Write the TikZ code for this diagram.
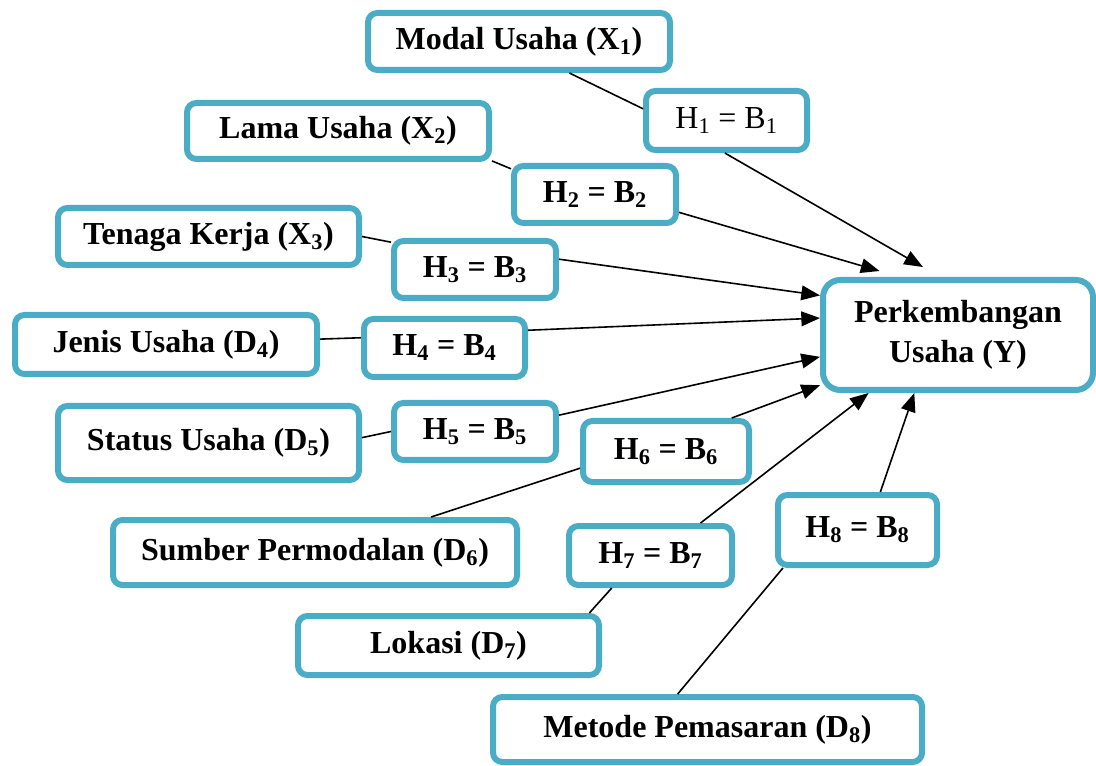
\documentclass[tikz,border=0pt]{standalone}
\usepackage{fontspec}
\setmainfont{Liberation Serif}
\usetikzlibrary{arrows.meta}
\definecolor{boxline}{HTML}{4BACC6}
\tikzset{
  varbox/.style 2 args={draw=boxline, line width=4.5pt, rounded corners=7pt, fill=white,
    minimum width=#1, minimum height=#2, inner sep=0pt, align=center,
    font=\fontsize{24}{30}\selectfont\bfseries},
  link/.style={line width=1.2pt},
  arr/.style={link, -{Triangle[length=14pt, width=11pt]}}
}

\begin{document}
\begin{tikzpicture}[x=0.75pt, y=-0.75pt]
  \useasboundingbox (0,0) rectangle (1096,766);

  % ---- Dependent variable --------------------------------------------------
  \node[varbox={202.5pt}{82.5pt}, rounded corners=13pt] (y) at (958,335)
    {Perkembangan\\Usaha (Y)};

  % ---- Independent variables -----------------------------------------------
  \node[varbox={226.5pt}{42.75pt}]  (x1) at (519,41.5)   {Modal Usaha (X\textsubscript{1})};
  \node[varbox={226.5pt}{42pt}]     (x2) at (338,131)    {Lama Usaha (X\textsubscript{2})};
  \node[varbox={225.75pt}{42.75pt}] (x3) at (208.5,236.5) {Tenaga Kerja (X\textsubscript{3})};
  \node[varbox={226.5pt}{44.25pt}]  (d4) at (166,344.5)  {Jenis Usaha (D\textsubscript{4})};
  \node[varbox={225.75pt}{55.5pt}]  (d5) at (208.5,443)  {Status Usaha (D\textsubscript{5})};
  \node[varbox={303pt}{48.75pt}]    (d6) at (315,552.5)  {Sumber Permodalan (D\textsubscript{6})};
  \node[varbox={225.75pt}{44.25pt}] (d7) at (448.5,645.5) {Lokasi (D\textsubscript{7})};
  \node[varbox={321.75pt}{48.75pt}] (d8) at (707.5,729.5) {Metode Pemasaran (D\textsubscript{8})};

  % ---- Hypotheses ----------------------------------------------------------
  \node[varbox={120.75pt}{44.25pt}, font=\fontsize{24}{30}\selectfont]
                                    (h1) at (726.5,120.5) {H\textsubscript{1} = B\textsubscript{1}};
  \node[varbox={121.5pt}{42.75pt}]  (h2) at (595,194.5)  {H\textsubscript{2} = B\textsubscript{2}};
  \node[varbox={121.5pt}{42.75pt}]  (h3) at (475,269.5)  {H\textsubscript{3} = B\textsubscript{3}};
  \node[varbox={120.75pt}{43.5pt}]  (h4) at (444.5,348)  {H\textsubscript{4} = B\textsubscript{4}};
  \node[varbox={121.5pt}{42.75pt}]  (h5) at (475,431.5)  {H\textsubscript{5} = B\textsubscript{5}};
  \node[varbox={124.5pt}{45.75pt}]  (h6) at (666,451.5)  {H\textsubscript{6} = B\textsubscript{6}};
  \node[varbox={122.25pt}{44.25pt}] (h7) at (650.5,555.5) {H\textsubscript{7} = B\textsubscript{7}};
  \node[varbox={119.25pt}{52.5pt}]  (h8) at (857.5,530)  {H\textsubscript{8} = B\textsubscript{8}};

  % ---- Variable to hypothesis ----------------------------------------------
  \draw[link] (x1.-32) -- (h1.172);
  \draw[link] (x2.-11) -- (h2.163);
  \draw[link] (x3.0)   -- (h3.162);
  \draw[link] (d4.2)   -- (h4.173);
  \draw[link] (d5.2)   -- (h5.180);
  \draw[link] (d6.17)  -- (h6.191);
  \draw[link] (d7.13)  -- (h7.220);
  \draw[link] (d8.130) -- (h8.207);

  % ---- Hypothesis to Y -----------------------------------------------------
  \draw[arr, shorten >=15pt] (h1.267) -- (y.107);
  \draw[arr, shorten >=16pt] (h2.-12) -- (y.135);
  \draw[arr] (h3.7)  -- (y.164);
  \draw[arr] (h4.12) -- (y.173);
  \draw[arr] (h5.11) -- (y.189);
  \draw[arr] (h6.27) -- (y.200);
  \draw[arr] (h7.33) -- (y.213);
  \draw[arr] (h8.59) -- (y.233);

\end{tikzpicture}
\end{document}
